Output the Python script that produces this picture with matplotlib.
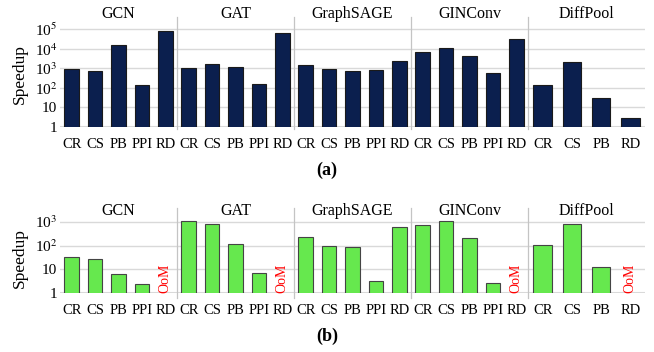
import matplotlib
matplotlib.use("Agg")
import matplotlib.pyplot as plt
from matplotlib.lines import Line2D

plt.rcParams['font.family'] = ['Liberation Serif', 'DejaVu Serif']
plt.rcParams['mathtext.fontset'] = 'stix'

# model groups and their dataset labels
models = ['GCN', 'GAT', 'GraphSAGE', 'GINConv', 'DiffPool']
ds_full = ['CR', 'CS', 'PB', 'PPI', 'RD']
ds_pool = ['CR', 'CS', 'PB', 'RD']
datasets = [ds_full, ds_full, ds_full, ds_full, ds_pool]

# (a) speedup
gcn_a = [900, 720, 15500, 138, 85000]
gat_a = [1070, 1600, 1200, 155, 62000]
sage_a = [1470, 910, 720, 790, 2450]
gin_a = [7100, 11400, 4250, 590, 32000]
pool_a = [143, 2100, 31, 2.8]
speedup_a = [gcn_a, gat_a, sage_a, gin_a, pool_a]

# (b) speedup, None = out of memory
gcn_b = [34, 28, 6.3, 2.5, None]
gat_b = [1030, 790, 112, 6.9, None]
sage_b = [235, 93, 84, 3.2, 610]
gin_b = [700, 1060, 200, 2.6, None]
pool_b = [105, 790, 12.3, None]
speedup_b = [gcn_b, gat_b, sage_b, gin_b, pool_b]

W, H = 654, 352
fig = plt.figure(figsize=(W / 100, H / 100), dpi=100)

x0 = 60.0
gw = 117.0
navy = '#0b1f4e'
green = '#66e84e'
grid_c = '#d9d9d9'
sep_c = '#c4c4c4'


def px(x):
    return x / W


def py(y):
    return 1 - y / H


def panel(data, ytop_px, ybot_px, top_exp, ticks, ticklabels, color, edge,
          title_y, sep_top, sep_bot):
    for gi, (name, labels, vals) in enumerate(zip(models, datasets, data)):
        left = x0 + gi * gw
        ax = fig.add_axes([px(left), py(ybot_px), px(gw), (ybot_px - ytop_px) / H])
        xs = list(range(len(labels)))
        hv = [v if v is not None else 0 for v in vals]
        ax.bar(xs, hv, width=0.63, color=color, edgecolor=edge, linewidth=0.8,
               zorder=3)
        for xi, v in zip(xs, vals):
            if v is None:
                ax.text(xi, 1.05, 'OoM', color='#ff0000', rotation=90,
                        ha='center', va='bottom', fontsize=10, zorder=4)
        ax.set_yscale('log')
        ax.set_ylim(1, 10 ** top_exp)
        ax.set_xlim(-0.5, len(labels) - 0.5)
        ax.set_yticks(ticks)
        ax.minorticks_off()
        if gi == 0:
            ax.set_yticklabels(ticklabels, fontsize=11)
        else:
            ax.set_yticklabels([])
        ax.set_xticks(xs)
        ax.set_xticklabels(labels, fontsize=10.5)
        ax.tick_params(length=0, axis='x', pad=8)
        ax.tick_params(length=0, axis='y', pad=2)
        ax.grid(axis='y', color=grid_c, linewidth=1.0, zorder=0)
        ax.axhline(1, color=grid_c, linewidth=1.5, zorder=1)
        for s in ax.spines.values():
            s.set_visible(False)
        fig.text(px(left + gw / 2), py(title_y), name, ha='center',
                 va='baseline', fontsize=11.5)
        if gi > 0:
            fig.add_artist(Line2D([px(left), px(left)], [py(sep_top), py(sep_bot)],
                                  color=sep_c, linewidth=0.9))


panel(speedup_a, 27, 126.7, 99.7 / 19.48,
      [1, 10, 100, 1e3, 1e4, 1e5],
      ['1', '10', r'10$^{2}$', r'10$^{3}$', r'10$^{4}$', r'10$^{5}$'],
      navy, '#1a1a1a', 18, 17, 129)
panel(speedup_b, 218, 293.3, 75.3 / 23.9,
      [1, 10, 100, 1e3],
      ['1', '10', r'10$^{2}$', r'10$^{3}$'],
      green, '#444444', 215, 208, 298)

fig.text(px(20), py(74), 'Speedup', rotation=90, ha='center', va='center',
         fontsize=12.5)
fig.text(px(20), py(258), 'Speedup', rotation=90, ha='center', va='center',
         fontsize=12.5)
fig.text(px(327), py(170), '(a)', ha='center', va='center', fontsize=13,
         fontweight='bold')
fig.text(px(327), py(336), '(b)', ha='center', va='center', fontsize=13,
         fontweight='bold')

fig.savefig('out.png', dpi=100)
